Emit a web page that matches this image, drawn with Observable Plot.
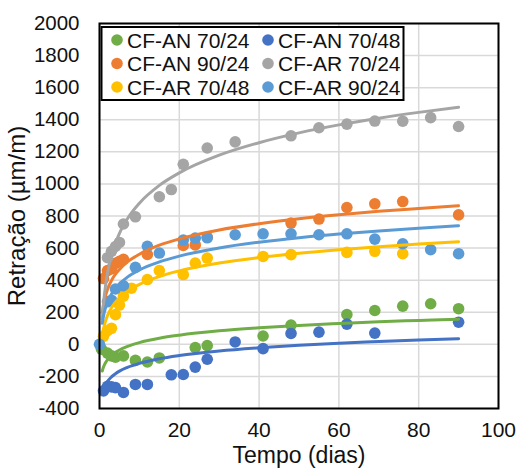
<!DOCTYPE html>
<html>
<head>
<meta charset="utf-8">
<script src="https://cdn.jsdelivr.net/npm/d3@7"></script>
<script src="https://cdn.jsdelivr.net/npm/@observablehq/plot@0.6"></script>
<style>
  body { margin: 0; background: #fff; }
</style>
</head>
<body>
<div id="chart"></div>
<script>
// ---- Data ----
const seriesNames = ["CF-AN 70/24", "CF-AN 70/48", "CF-AN 90/24", "CF-AR 70/24", "CF-AR 70/48", "CF-AR 90/24"];
const seriesColors = ["#70AD47", "#4472C4", "#ED7D31", "#A5A5A5", "#FFC000", "#5B9BD5"];

// measured points: [day, retração µm/m]
const an70_24 = [[0.5,-30],[2,-55],[3,-72],[4,-80],[6,-72],[9,-100],[12,-110],[15,-85],[24,-20],[27,-8],[41,52],[48,120],[62,186],[69,211],[76,238],[83,253],[90,222]];
const an70_48 = [[1,-290],[2,-262],[3,-265],[4,-270],[6,-300],[9,-250],[12,-250],[18,-190],[21,-188],[24,-142],[27,-93],[34,15],[41,-27],[48,68],[55,76],[62,126],[69,70],[90,138]];
const an90_24 = [[1,410],[2,460],[3,470],[4,505],[5,517],[6,530],[12,560],[21,616],[24,620],[27,668],[48,756],[55,781],[62,853],[69,876],[76,890],[90,807]];
const ar70_24 = [[2,540],[3,580],[4,610],[5,635],[6,750],[9,795],[15,920],[18,965],[21,1122],[27,1224],[34,1262],[48,1300],[55,1350],[62,1373],[69,1392],[76,1391],[83,1413],[90,1358]];
const ar70_48 = [[1,50],[2,85],[3,100],[4,185],[5,245],[6,300],[8,350],[12,404],[15,460],[21,435],[24,507],[27,538],[41,548],[48,559],[62,573],[69,580],[76,565]];
const ar90_24 = [[0,0],[2,265],[3,275],[4,345],[6,365],[9,480],[12,611],[15,569],[21,650],[24,662],[27,664],[34,683],[41,689],[48,689],[55,683],[62,689],[69,656],[76,627],[83,590],[90,565]];

// trend lines
const trendDays   = [0.7, 1, 1.5, 2, 3, 4, 5, 7, 10, 15, 20, 30, 40, 50, 60, 70, 80, 90];
const trendAN70_24 = [-166,-142,-115,-96,-69,-50,-35,-13,11,38,57,84,103,118,130,141,149,157];
const trendAN70_48 = [-305,-280,-252,-231,-203,-183,-167,-144,-119,-90,-70,-42,-22,-6,7,17,27,35];
const trendAN90_24 = [198,247,302,342,398,437,467,514,562,618,657,713,752,783,808,829,847,864];
const trendAR70_24 = [157,254,364,443,553,631,692,783,880,991,1069,1179,1257,1318,1368,1410,1446,1478];
const trendAR70_48 = [52,95,144,179,228,263,290,330,374,423,458,507,541,568,590,609,625,640];
const trendAR90_24 = [131,176,227,263,313,349,377,419,464,514,550,601,637,665,688,707,724,739];

const xTicks = [0, 20, 40, 60, 80, 100];
const yTicks = [-400, -200, 0, 200, 400, 600, 800, 1000, 1200, 1400, 1600, 1800, 2000];
const xTitle = "Tempo (dias)";
const yTitle = "Retração (µm/m)";

// ---- Tables ----
const pointSets = [an70_24, an70_48, an90_24, ar70_24, ar70_48, ar90_24];
const trendSets = [trendAN70_24, trendAN70_48, trendAN90_24, trendAR70_24, trendAR70_48, trendAR90_24];
const points = pointSets.flatMap((s, i) => s.map(([day, value]) => ({series: seriesNames[i], day, value})));
const trends = trendSets.flatMap((s, i) => s.map((value, j) => ({series: seriesNames[i], day: trendDays[j], value})));

const FONT = "'Liberation Sans', Arial, sans-serif";
const FS = 21;
const INK = "#111";

const chart = Plot.plot({
  width: 517,
  height: 468,
  marginLeft: 99,
  marginRight: 19,
  marginTop: 23,
  marginBottom: 60,
  style: {fontFamily: FONT, fontSize: FS + "px", background: "white", color: INK},
  x: {domain: [0, 100]},
  y: {domain: [-400, 2000]},
  color: {domain: seriesNames, range: seriesColors},
  marks: [
    Plot.gridX(xTicks, {stroke: "#d9d9d9", strokeOpacity: 1, strokeWidth: 1.5}),
    Plot.gridY(yTicks, {stroke: "#d9d9d9", strokeOpacity: 1, strokeWidth: 1.5}),
    Plot.axisX(xTicks, {tickSize: 0, tickPadding: 14, label: null, fontSize: FS, fill: INK, tickFormat: d => String(d)}),
    Plot.axisY(yTicks, {tickSize: 0, tickPadding: 20, label: null, fontSize: FS - 0.5, fill: INK, tickFormat: d => String(d)}),
    Plot.dot(points, {x: "day", y: "value", fill: "series", r: 5.8}),
    Plot.line(trends, {x: "day", y: "value", stroke: "series", z: "series", strokeWidth: 3, curve: "monotone-x"}),
    Plot.frame({stroke: "black", strokeWidth: 2}),
    Plot.text([xTitle], {frameAnchor: "bottom", dy: 47, lineAnchor: "middle", textAnchor: "middle", fontSize: 23, fill: INK}),
    Plot.text([yTitle], {frameAnchor: "left", dx: -82, rotate: -90, lineAnchor: "middle", textAnchor: "middle", fontSize: 24, fill: INK})
  ]
});

// ---- Legend inside the plot area (top-left) ----
const svg = d3.select(chart);
const lg = svg.append("g").attr("font-family", FONT).attr("font-size", FS).attr("text-anchor", "start");
lg.append("rect").attr("x", 101.5).attr("y", 27).attr("width", 302).attr("height", 73)
  .attr("fill", "white").attr("stroke", "black").attr("stroke-width", 2);
const colX = [117, 268];
const rowY = [40, 63.5, 87];
seriesNames.forEach((name, i) => {
  const cx = colX[i % 2], cy = rowY[Math.floor(i / 2)];
  lg.append("circle").attr("cx", cx).attr("cy", cy).attr("r", 5.8).attr("fill", seriesColors[i]);
  lg.append("text").attr("x", cx + 10).attr("y", cy).attr("dy", "0.36em")
    .attr("text-anchor", "start").attr("fill", INK).text(name);
});

document.getElementById("chart").appendChild(chart);
</script>
</body>
</html>
